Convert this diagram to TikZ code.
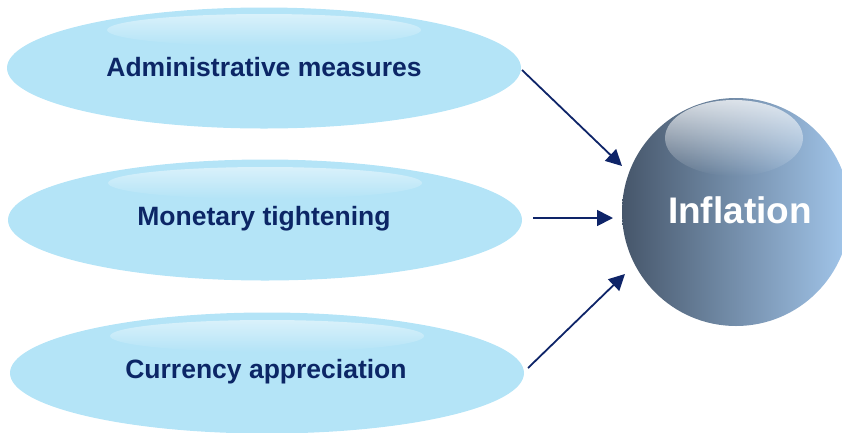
\documentclass[tikz,border=0pt]{standalone}
\usepackage{fontspec}
\setmainfont{Liberation Sans}
\usetikzlibrary{shapes.geometric,arrows.meta,fadings}
\tikzfading[name=fadedown, top color=transparent!0, bottom color=transparent!100]
\definecolor{ellfill}{RGB}{180,228,247}
\definecolor{navy}{RGB}{12,38,102}
\definecolor{arrowc}{RGB}{14,36,104}
\definecolor{balldark}{RGB}{70,86,106}
\definecolor{balllight}{RGB}{163,199,236}
\tikzset{
  cause/.style={ellipse, fill=ellfill, minimum width=514pt, minimum height=121pt, inner sep=0pt},
  causetext/.style={font=\fontsize{26.5}{30}\selectfont\bfseries, text=navy},
  gloss/.style={fill=white, opacity=0.5, path fading=fadedown},
  flow/.style={draw=arrowc, line width=1.8pt, -{Triangle[length=16pt,width=16pt]}}
}
\begin{document}
\begin{tikzpicture}[x=1pt,y=-1pt]
\useasboundingbox (0,0) rectangle (842,432);
% cause ellipses
\node[cause] (e1) at (264,68) {};
\node[cause] (e2) at (265,220) {};
\node[cause] (e3) at (267,373) {};
\fill[gloss] (264,30) ellipse [x radius=157, y radius=16];
\fill[gloss] (265,183) ellipse [x radius=157, y radius=16];
\fill[gloss] (267,336) ellipse [x radius=157, y radius=16];
\node[causetext] (t1) at (264,67) {Administrative measures};
\node[causetext] (t2) at (264,219) {Monetary tightening};
\node[causetext] (t3) at (266,372) {Currency appreciation};
% inflation ball
\node[circle, minimum size=228pt, inner sep=0pt, left color=balldark, right color=balllight] (ball) at (736,212) {};
\fill[white, opacity=0.75, path fading=fadedown] (734,138) ellipse [x radius=69, y radius=38];
\node[font=\fontsize{37}{40}\selectfont\bfseries, text=white] (inf) at (740,210) {Inflation};
% connectors
\coordinate (a1s) at (522,70);  \coordinate (a1e) at (622,166);
\coordinate (a2s) at (533,218); \coordinate (a2e) at (613,218);
\coordinate (a3s) at (528,368); \coordinate (a3e) at (625,274);
\draw[flow] (a1s) -- (a1e);
\draw[flow] (a2s) -- (a2e);
\draw[flow] (a3s) -- (a3e);
\end{tikzpicture}
\end{document}
